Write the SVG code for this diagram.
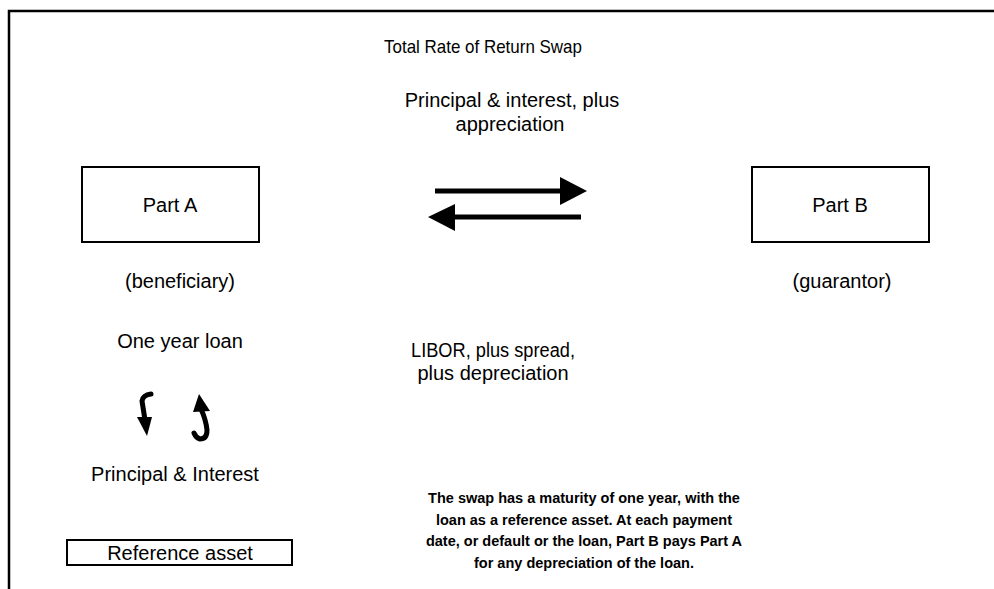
<svg xmlns="http://www.w3.org/2000/svg" width="994" height="589" viewBox="0 0 994 589">
<style>
text{font-family:"Liberation Sans",Arial,sans-serif;font-size:20px;fill:#000;text-anchor:middle}
.t{font-size:19px}
.b{font-weight:bold;font-size:14.5px}
.box{fill:#fff;stroke:#000;stroke-width:2}
.ln{stroke:#000;stroke-width:5;fill:none}
.cv{stroke:#000;stroke-width:5;fill:none;stroke-linecap:round}
</style>
<rect width="994" height="589" fill="#fff"/>
<path d="M9,589 V11 H994" fill="none" stroke="#000" stroke-width="2.5"/>
<text class="t" x="483" y="53" textLength="198" lengthAdjust="spacingAndGlyphs">Total Rate of Return Swap</text>
<text x="512" y="107">Principal &amp; interest, plus</text>
<text x="510" y="131">appreciation</text>
<g id="partA"><rect class="box" x="82" y="167" width="177" height="75"/><text x="170" y="212">Part A</text></g>
<g id="partB"><rect class="box" x="752" y="167" width="177" height="75"/><text x="840" y="212">Part B</text></g>
<g id="connectors">
<line class="ln" x1="435" y1="191" x2="562" y2="191"/>
<polygon points="560,177 587,191 560,205"/>
<line class="ln" x1="581" y1="217" x2="453" y2="217"/>
<polygon points="455,204 428,217 455,231"/>
<path class="cv" d="M151,394 Q143,395 142,401 L145,420"/>
<polygon points="137,417 152,417 147,436"/>
<path class="cv" d="M201,409 Q206,420 207,430 Q207,439 200,439 Q196,438 194,433"/>
<polygon points="199,394 193,412 210,411"/>
</g>
<text x="180" y="288">(beneficiary)</text>
<text x="842" y="288">(guarantor)</text>
<text x="180" y="348">One year loan</text>
<text x="493" y="357" textLength="164" lengthAdjust="spacingAndGlyphs">LIBOR, plus spread,</text>
<text x="493" y="380">plus depreciation</text>
<text x="175" y="481">Principal &amp; Interest</text>
<g id="ref"><rect class="box" x="67" y="540" width="225" height="25"/><text x="180" y="560">Reference asset</text></g>
<text class="b" x="584" y="503">The swap has a maturity of one year, with the</text>
<text class="b" x="584" y="525">loan as a reference asset. At each payment</text>
<text class="b" x="584" y="546">date, or default or the loan, Part B pays Part A</text>
<text class="b" x="584" y="568">for any depreciation of the loan.</text>
</svg>
